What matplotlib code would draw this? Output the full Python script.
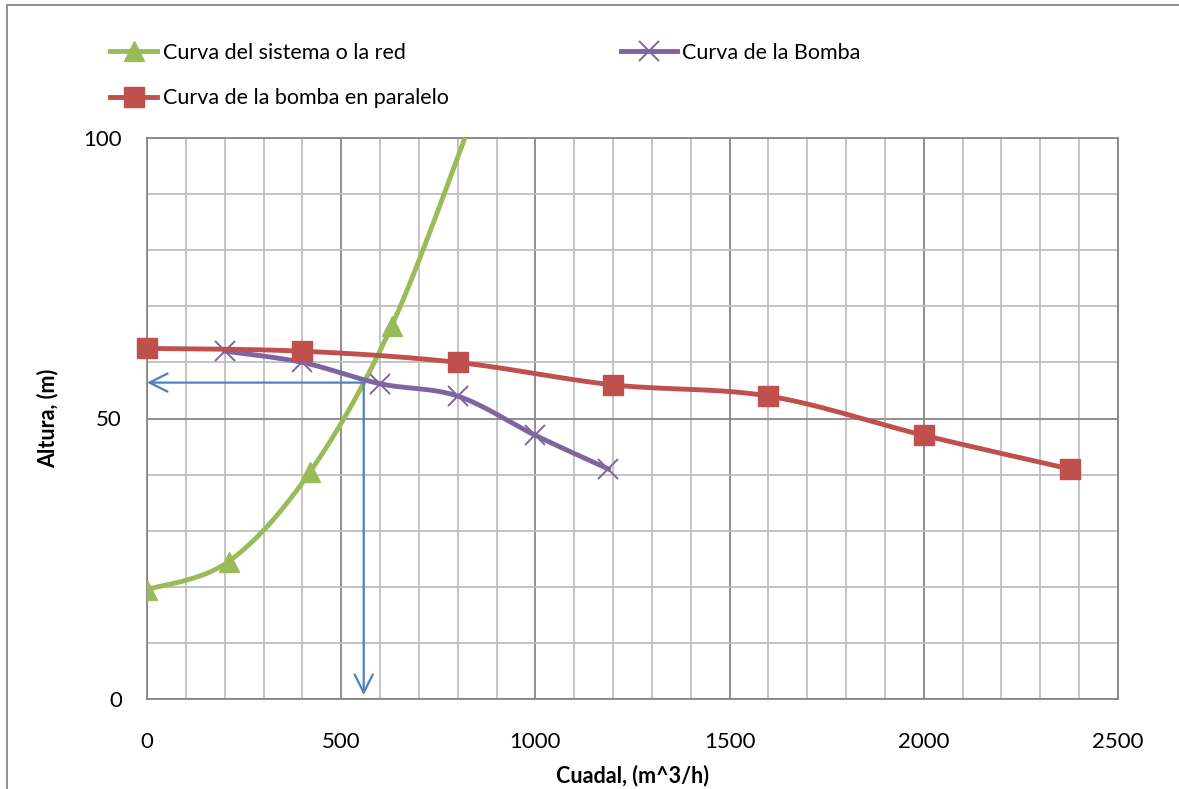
import numpy as np
import matplotlib
matplotlib.use("Agg")
import matplotlib.pyplot as plt
from matplotlib.lines import Line2D
from matplotlib.patches import Rectangle

# ---------------- data ----------------
sistema_q = [0, 210, 420, 630, 840]
sistema_h = [19.5, 24.5, 40.5, 66.5, 104]

bomba_q = [200, 400, 600, 800, 1000, 1188]
bomba_h = [62, 60, 56.2, 54, 47, 41]

paralelo_q = [0, 400, 800, 1200, 1600, 2000, 2376]
paralelo_h = [62.5, 62, 60, 56, 54, 47, 41]

op_q = 558      # operating point flow
op_h = 56.4     # operating point head
op_bottom = 0.7

x_ticks = [0, 500, 1000, 1500, 2000, 2500]
y_ticks = [0, 50, 100]

GREEN = "#9BBB59"
PURPLE = "#8064A2"
RED = "#C0504D"
BLUE = "#4F81BD"

plt.rcParams['font.family'] = ['Lato', 'DejaVu Sans']


def smooth(xs, ys, n=40):
    """Excel-like smoothed line (Catmull-Rom Bezier)."""
    p = np.column_stack([xs, ys]).astype(float)
    ext = np.vstack([p[0], p, p[-1]])
    out = []
    for i in range(1, len(ext) - 2):
        p0, p1, p2, p3 = ext[i - 1], ext[i], ext[i + 1], ext[i + 2]
        c1 = p1 + (p2 - p0) / 6.0
        c2 = p2 - (p3 - p1) / 6.0
        t = np.linspace(0, 1, n)[:, None]
        seg = ((1 - t) ** 3) * p1 + 3 * ((1 - t) ** 2) * t * c1 + 3 * (1 - t) * t ** 2 * c2 + t ** 3 * p2
        out.append(seg if i == 1 else seg[1:])
    out = np.vstack(out)
    return out[:, 0], out[:, 1]


fig = plt.figure(figsize=(11.79, 7.89), dpi=100)
ax = fig.add_axes([147 / 1179, 1 - 699 / 789, (1118 - 147) / 1179, (699 - 138) / 789])

ax.set_xlim(0, 2500)
ax.set_ylim(0, 100)
ax.set_xticks(x_ticks)
ax.set_yticks(y_ticks)
ax.set_xticks(np.arange(0, 2501, 100), minor=True)
ax.set_yticks(np.arange(0, 101, 10), minor=True)
ax.grid(which='minor', color='#BFBFBF', linewidth=1.3, zorder=0)
ax.grid(which='major', color='#878787', linewidth=1.3, zorder=0)
ax.set_axisbelow(True)
for s in ax.spines.values():
    s.set_color('#878787')
    s.set_linewidth(1.3)
ax.tick_params(which='both', length=0)
ax.tick_params(axis='x', pad=24, labelsize=16)
ax.tick_params(axis='y', pad=18, labelsize=16)

lw = 3.5
ms_tri, ms_x, ms_sq = 14, 15, 14
sx, sy = smooth(sistema_q, sistema_h)
ax.plot(sx, sy, color=GREEN, lw=lw, zorder=3, clip_on=True)
ax.plot(sistema_q, sistema_h, linestyle='none', marker='^', color=GREEN,
        markersize=ms_tri, zorder=4, clip_on=True)

bx, by = smooth(bomba_q, bomba_h)
ax.plot(bx, by, color=PURPLE, lw=lw, zorder=3)
ax.plot(bomba_q, bomba_h, linestyle='none', marker='x', color=PURPLE,
        markersize=ms_x, markeredgewidth=1.4, zorder=4)

rx, ry = smooth(paralelo_q, paralelo_h)
ax.plot(rx, ry, color=RED, lw=lw, zorder=5, clip_on=False)
ax.plot(paralelo_q, paralelo_h, linestyle='none', marker='s', color=RED,
        markersize=ms_sq, zorder=6, clip_on=False)

arrow_kw = dict(arrowstyle='->,head_length=1.3,head_width=0.65', color=BLUE, lw=1.6,
                shrinkA=0, shrinkB=0)
ax.annotate('', xy=(0, op_h), xytext=(op_q, op_h), arrowprops=arrow_kw, zorder=7)
ax.annotate('', xy=(op_q, op_bottom), xytext=(op_q, op_h), arrowprops=arrow_kw, zorder=7)

ax.set_xlabel('Cuadal, (m^3/h)', fontsize=15.5, fontweight='bold')
ax.set_ylabel('Altura, (m)', fontsize=15.5, fontweight='bold')
ax.xaxis.label.set_va('center')
ax.yaxis.label.set_va('center')
ax.xaxis.set_label_coords(0.5, (699 - 776) / 561)
ax.yaxis.set_label_coords((48 - 147) / 971, 0.5)

# legend
h_green = Line2D([], [], color=GREEN, lw=lw, marker='^', markersize=ms_tri)
h_purple = Line2D([], [], color=PURPLE, lw=lw, marker='x', markersize=ms_x, markeredgewidth=1.4)
h_red = Line2D([], [], color=RED, lw=lw, marker='s', markersize=ms_sq)
leg_kw = dict(frameon=False, fontsize=15.5, handletextpad=0.25,
              labelspacing=1.18, borderpad=0, borderaxespad=0, loc='upper left')
fig.legend([h_green, h_red], ['Curva del sistema o la red', 'Curva de la bomba en paralelo'],
           bbox_to_anchor=(110 / 1179, 1 - 43 / 789), handlelength=2.2, **leg_kw)
fig.legend([h_purple], ['Curva de la Bomba'],
           bbox_to_anchor=(621 / 1179, 1 - 43 / 789), handlelength=2.6, **leg_kw)

# chart border
fig.patches.append(Rectangle((7.5 / 1179, -0.05), 1.1, 1 - 5 / 789 + 0.05,
                             transform=fig.transFigure, fill=False,
                             edgecolor='#878787', linewidth=1.3, zorder=0))

fig.savefig('out.png', dpi=100)
